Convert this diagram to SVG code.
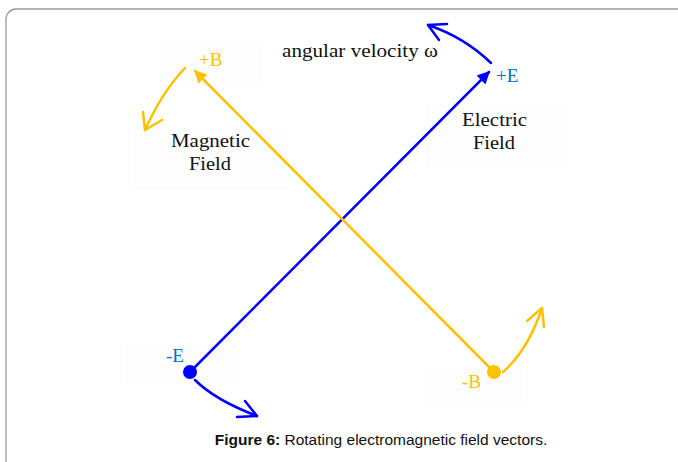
<svg xmlns="http://www.w3.org/2000/svg" width="678" height="462" viewBox="0 0 678 462">
<style>
.lbl{font-family:"Liberation Serif","Times New Roman",serif;font-size:19px;fill:#111}
.sm{font-size:19px}
.yel{stroke:#FFC000;fill:none;stroke-width:2.5;stroke-linecap:round;stroke-linejoin:round}
.blu{stroke:#0000FF;fill:none;stroke-width:2.5;stroke-linecap:round;stroke-linejoin:round}
.bg{fill:#fdfdfd}
.cap{font-family:"Liberation Sans",Arial,sans-serif;font-size:15.5px;fill:#111}
</style>
<defs>
<marker id="ab" viewBox="0 0 10 10" refX="9" refY="5" markerWidth="6" markerHeight="5" markerUnits="strokeWidth" orient="auto"><path d="M0,0 L10,5 L0,10 z" fill="#0000FF"/></marker>
<marker id="ay" viewBox="0 0 10 10" refX="9" refY="5" markerWidth="6" markerHeight="5" markerUnits="strokeWidth" orient="auto"><path d="M0,0 L10,5 L0,10 z" fill="#FFC000"/></marker>
</defs>
<rect width="678" height="462" fill="#fff"/>
<rect x="6" y="9" width="700" height="480" rx="10" ry="10" fill="none" stroke="#999" stroke-width="1.3"/>
<g id="backgrounds">
<rect class="bg" x="160" y="45" width="102" height="38"/>
<rect class="bg" x="133" y="128" width="155" height="62"/>
<rect class="bg" x="425" y="103" width="140" height="64"/>
<rect class="bg" x="125" y="345" width="111" height="38"/>
<rect class="bg" x="422" y="368" width="101" height="37"/>
</g>
<g id="connectors">
<line class="blu" x1="190" y1="372" x2="489" y2="72" marker-end="url(#ab)"/>
<line class="yel" x1="494" y1="372" x2="195" y2="71" marker-end="url(#ay)"/>
<path class="blu" d="M491,63 Q464,37 428,25"/>
<polyline class="blu" points="447,24 428,25 439,40"/>
<path class="yel" d="M185,68 Q162,92 145,130"/>
<polyline class="yel" points="143,112 145,130 162,120"/>
<path class="blu" d="M195,380 Q215,400 257,416"/>
<polyline class="blu" points="245,401 257,416 237,417"/>
<path class="yel" d="M503,372 Q528,350 542,308"/>
<polyline class="yel" points="527,321 542,308 544,327"/>
</g>
<g id="node-plusE">
<text class="lbl sm" x="496" y="82" style="fill:#0070C0">+E</text>
</g>
<g id="node-minusE">
<circle cx="190" cy="372" r="7" fill="#0000FF"/>
<text class="lbl sm" x="166" y="362" style="fill:#0070C0">-E</text>
</g>
<g id="node-plusB">
<text class="lbl sm" x="199" y="66" style="fill:#FFC000">+B</text>
</g>
<g id="node-minusB">
<circle cx="494" cy="372" r="7" fill="#FFC000"/>
<text class="lbl sm" x="462" y="388" style="fill:#FFC000">-B</text>
</g>
<g id="node-angular">
<text class="lbl" x="282" y="57" textLength="156" lengthAdjust="spacingAndGlyphs">angular velocity ω</text>
</g>
<g id="node-electric">
<text class="lbl" x="462" y="126" textLength="65" lengthAdjust="spacingAndGlyphs">Electric</text>
<text class="lbl" x="473" y="149" textLength="42" lengthAdjust="spacingAndGlyphs">Field</text>
</g>
<g id="node-magnetic">
<text class="lbl" x="171" y="147" textLength="79" lengthAdjust="spacingAndGlyphs">Magnetic</text>
<text class="lbl" x="189" y="170" textLength="42" lengthAdjust="spacingAndGlyphs">Field</text>
</g>
<g id="caption">
<text class="cap" x="381" y="445" text-anchor="middle"><tspan font-weight="bold">Figure 6:</tspan> Rotating electromagnetic field vectors.</text>
</g>
</svg>
